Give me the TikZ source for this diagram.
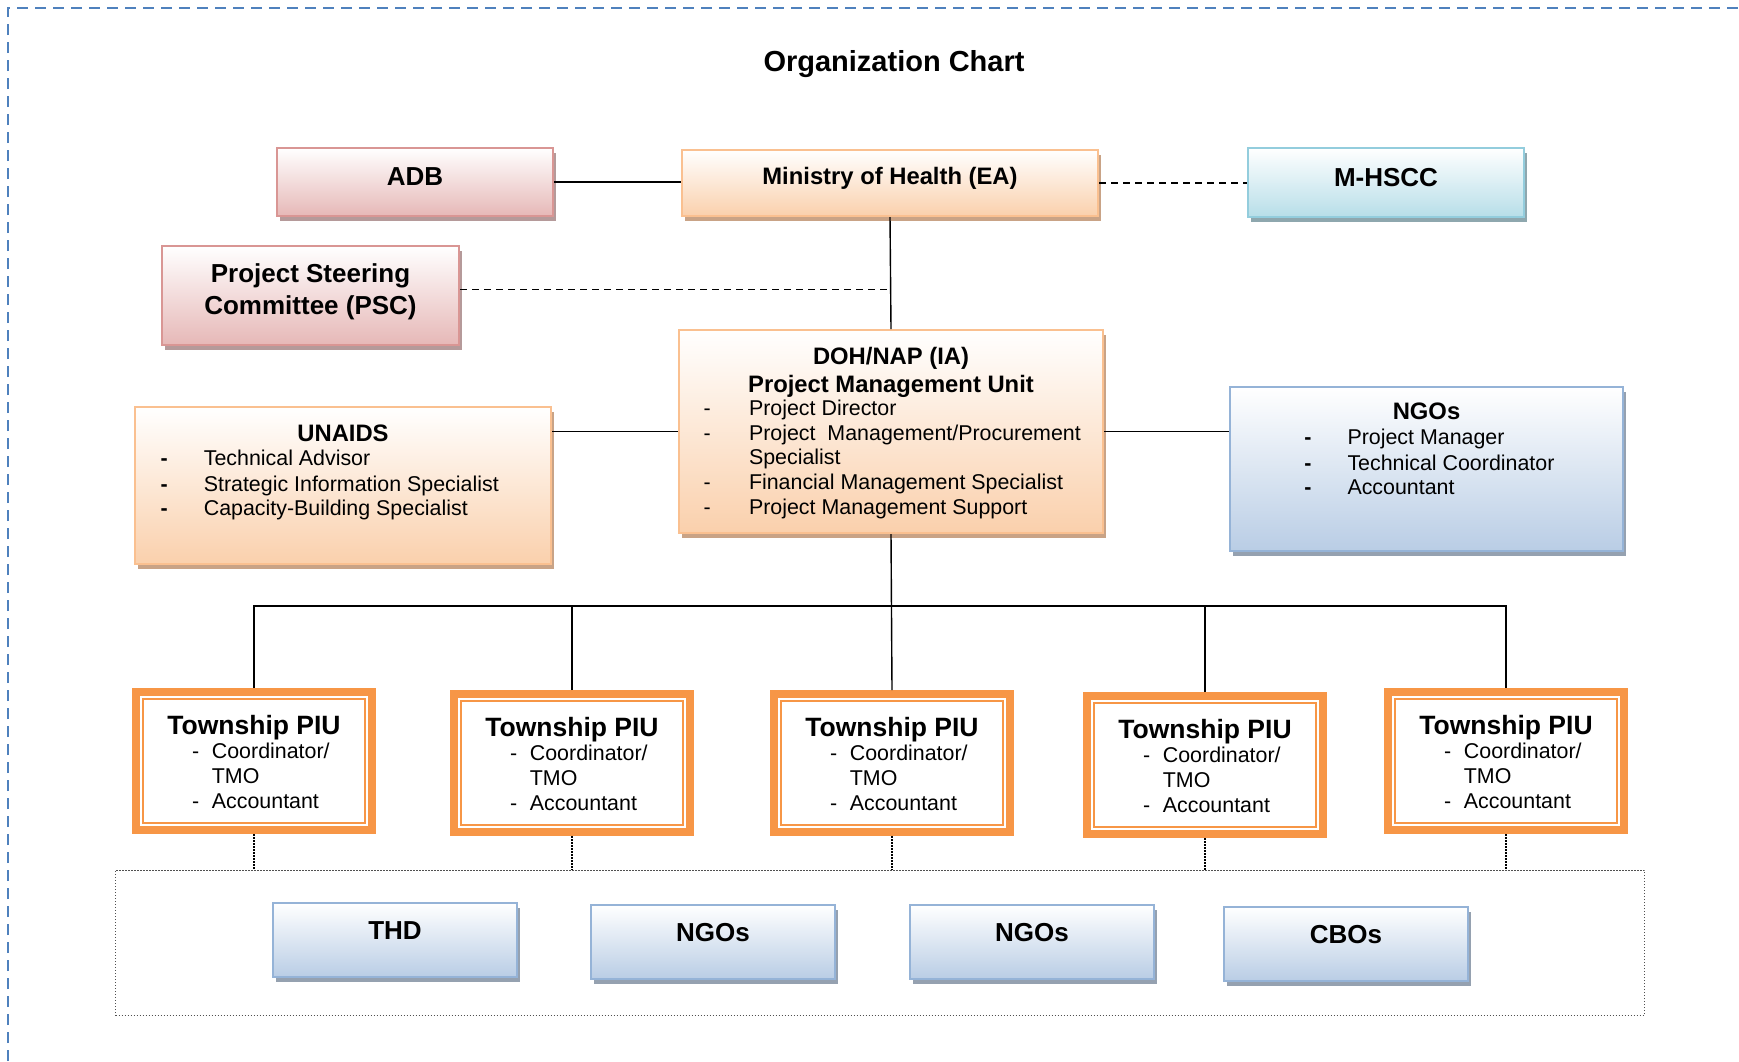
\documentclass[tikz,border=0pt]{standalone}
\usepackage{fontspec}
\setmainfont{Liberation Sans}
\usepackage{tikz}
\usetikzlibrary{shadows,calc}

\definecolor{pageblue}{HTML}{4F81BD}
\definecolor{pinkline}{HTML}{D99694}
\definecolor{pinkfill}{HTML}{E6B8B7}
\definecolor{pinkshade}{HTML}{B59A9A}
\definecolor{peachline}{HTML}{FAC090}
\definecolor{peachfill}{HTML}{FAD0AC}
\definecolor{peachshade}{HTML}{C9A386}
\definecolor{cyanline}{HTML}{93CDDD}
\definecolor{cyanfill}{HTML}{B7DEE8}
\definecolor{cyanshade}{HTML}{8EA7AE}
\definecolor{blueline}{HTML}{95B3D7}
\definecolor{bluefill}{HTML}{B9CDE5}
\definecolor{blueshade}{HTML}{95A1B0}
\definecolor{piuorange}{HTML}{F79646}
\definecolor{grpgray}{HTML}{505050}

\newcommand{\titlefont}{\fontsize{29}{33}\selectfont\bfseries}
\newcommand{\bigfont}{\fontsize{26}{30}\selectfont\bfseries}
\newcommand{\headfont}{\fontsize{23.8}{27}\selectfont\bfseries}
\newcommand{\bodyfont}{\fontsize{21.4}{25}\selectfont}
\newcommand{\piufont}{\fontsize{26.5}{30}\selectfont\bfseries}

\newcommand{\boxbody}[3]{\parbox[c][#2][t]{#1}{#3}}
\newcommand{\topline}[3]{{#1\noindent\rule{0pt}{#2}#3\par}}
\newcommand{\subline}[3]{{#1\setlength{\baselineskip}{#2}\noindent#3\par}}
\newcommand{\midtext}[1]{\makebox[\linewidth]{#1}}
\newcommand{\dashtext}[3]{\hspace*{#1}\makebox[#2][l]{-}#3}
\newcommand{\bdashtext}[3]{\hspace*{#1}\makebox[#2][l]{\textbf{-}}#3}

\newcommand{\piutext}{\boxbody{222pt}{124.4pt}{%
  \topline{\piufont}{35.8pt}{\midtext{Township PIU}}%
  \subline{\bodyfont}{23.6pt}{\dashtext{49pt}{19.9pt}{Coordinator/}}%
  \subline{\bodyfont}{25.5pt}{\hspace*{68.9pt}TMO}%
  \subline{\bodyfont}{24.4pt}{\dashtext{49pt}{19.9pt}{Accountant}}}}

\begin{document}
\begin{tikzpicture}[x=1pt,y=-1pt]
\useasboundingbox (0,0) rectangle (1739,1061);
\tikzstyle{chartbox}=[anchor=north west, inner sep=0pt, line width=2pt]
\tikzstyle{pinkbox}=[chartbox, draw=pinkline, top color=white, bottom color=pinkfill,
    drop shadow={opacity=1, fill=pinkshade, shadow xshift=3pt, shadow yshift=-5pt}]
\tikzstyle{peachbox}=[chartbox, draw=peachline, top color=white, bottom color=peachfill,
    drop shadow={opacity=1, fill=peachshade, shadow xshift=3pt, shadow yshift=-5pt}]
\tikzstyle{cyanbox}=[chartbox, draw=cyanline, top color=white, bottom color=cyanfill,
    drop shadow={opacity=1, fill=cyanshade, shadow xshift=3pt, shadow yshift=-5pt}]
\tikzstyle{bluebox}=[chartbox, draw=blueline, top color=white, bottom color=bluefill,
    drop shadow={opacity=1, fill=blueshade, shadow xshift=3pt, shadow yshift=-5pt}]
\tikzstyle{piubox}=[anchor=north west, inner sep=0pt, outer sep=11pt, fill=white,
    draw=piuorange, line width=2pt,
    preaction={draw=piuorange, line width=22pt}, preaction={draw=white, line width=6pt}]
\tikzstyle{link}=[line width=1.4pt]
\tikzstyle{dlink}=[line width=1.4pt, dash pattern=on 7pt off 5pt]
\tikzstyle{dotlink}=[line width=1.3pt, dash pattern=on 1.3pt off 1.7pt]

\draw[pageblue, line width=2.4pt, dash pattern=on 11pt off 7pt] (8,1061) -- (8,8) -- (1739,8);

\node[anchor=base] (title) at (894,71.5) {\titlefont Organization Chart};

\node[pinkbox] (adb) at (276,147) {\boxbody{276pt}{68pt}{%
    \topline{\bigfont}{37pt}{\midtext{ADB}}}};
\node[peachbox] (moh) at (681,149) {\boxbody{416pt}{66pt}{%
    \topline{\headfont}{34.5pt}{\midtext{Ministry of Health (EA)}}}};
\node[cyanbox] (mhscc) at (1247,147) {\boxbody{276pt}{69pt}{%
    \topline{\bigfont}{38.5pt}{\midtext{M-HSCC}}}};
\node[pinkbox] (psc) at (161,245) {\boxbody{297pt}{99pt}{%
    \topline{\bigfont}{36pt}{\midtext{Project Steering}}%
    \subline{\bigfont}{32pt}{\midtext{Committee (PSC)}}}};

\node[peachbox] (doh) at (678,329) {\boxbody{424pt}{203pt}{%
    \topline{\headfont}{34.5pt}{\midtext{DOH/NAP (IA)}}%
    \subline{\headfont}{27.5pt}{\midtext{Project Management Unit}}%
    \subline{\bodyfont}{23.5pt}{\dashtext{24.5pt}{45.5pt}{Project Director}}%
    \subline{\bodyfont}{24.5pt}{\dashtext{24.5pt}{45.5pt}{Project\ \ Management/Procurement}}%
    \subline{\bodyfont}{24.5pt}{\hspace*{70pt}Specialist}%
    \subline{\bodyfont}{25pt}{\dashtext{24.5pt}{45.5pt}{Financial Management Specialist}}%
    \subline{\bodyfont}{24.5pt}{\dashtext{24.5pt}{45.5pt}{Project Management Support}}}};
\node[peachbox] (unaids) at (134,406) {\boxbody{416pt}{157pt}{%
    \topline{\headfont}{34pt}{\midtext{UNAIDS}}%
    \subline{\bodyfont}{24.5pt}{\bdashtext{25.5pt}{43.3pt}{Technical Advisor}}%
    \subline{\bodyfont}{25.5pt}{\bdashtext{25.5pt}{43.3pt}{Strategic Information Specialist}}%
    \subline{\bodyfont}{24.5pt}{\bdashtext{25.5pt}{43.3pt}{Capacity-Building Specialist}}}};
\node[bluebox] (ngo) at (1229,386) {\boxbody{393pt}{164pt}{%
    \topline{\headfont}{32.8pt}{\midtext{NGOs}}%
    \subline{\bodyfont}{24.7pt}{\bdashtext{74.3pt}{43.2pt}{Project Manager}}%
    \subline{\bodyfont}{25.5pt}{\bdashtext{74.3pt}{43.2pt}{Technical Coordinator}}%
    \subline{\bodyfont}{24.4pt}{\bdashtext{74.3pt}{43.2pt}{Accountant}}}};

\node[piubox] (piu1) at (132,688) {\piutext};
\node[piubox] (piu2) at (450,690) {\piutext};
\node[piubox] (piu3) at (770,690) {\piutext};
\node[piubox] (piu4) at (1083,692) {\piutext};
\node[piubox] (piu5) at (1384,688) {\piutext};

\node[draw=grpgray, line width=1.4pt, dash pattern=on 1.3pt off 1.7pt, anchor=north west,
    inner sep=0pt, minimum width=1529pt, minimum height=145pt] (grp) at (115,869.5) {};
\node[bluebox] (thd) at (272,902) {\boxbody{244pt}{74pt}{%
    \topline{\bigfont}{36pt}{\midtext{THD}}}};
\node[bluebox] (ngoa) at (590,904) {\boxbody{244pt}{74pt}{%
    \topline{\bigfont}{36pt}{\midtext{NGOs}}}};
\node[bluebox] (ngob) at (909,904) {\boxbody{244pt}{74pt}{%
    \topline{\bigfont}{36pt}{\midtext{NGOs}}}};
\node[bluebox] (cbo) at (1223,906) {\boxbody{244pt}{74pt}{%
    \topline{\bigfont}{36pt}{\midtext{CBOs}}}};

\draw[link] (adb.east) -- (adb.east -| moh.west);
\draw[dlink] (moh.east) -- (moh.east -| mhscc.west);
\draw[link] (moh.south) -- (doh.north);
\draw[dlink] ([yshift=6pt]psc.east) -- ([yshift=6pt]psc.east -| moh.south);
\draw[link] (doh.west) -- (doh.west -| unaids.east);
\draw[link] (doh.east) -- (doh.east -| ngo.west);
\draw[link] (doh.south) -- (piu3.north);
\coordinate (bus) at (889,606);
\draw[link] (piu1.north) |- (bus) -| (piu5.north);
\draw[link] (piu2.north) -- (piu2.north |- bus);
\draw[link] (piu4.north) -- (piu4.north |- bus);
\draw[dotlink] (piu1.south) -- (piu1.south |- grp.north);
\draw[dotlink] (piu2.south) -- (piu2.south |- grp.north);
\draw[dotlink] (piu3.south) -- (piu3.south |- grp.north);
\draw[dotlink] (piu4.south) -- (piu4.south |- grp.north);
\draw[dotlink] (piu5.south) -- (piu5.south |- grp.north);
\end{tikzpicture}
\end{document}
